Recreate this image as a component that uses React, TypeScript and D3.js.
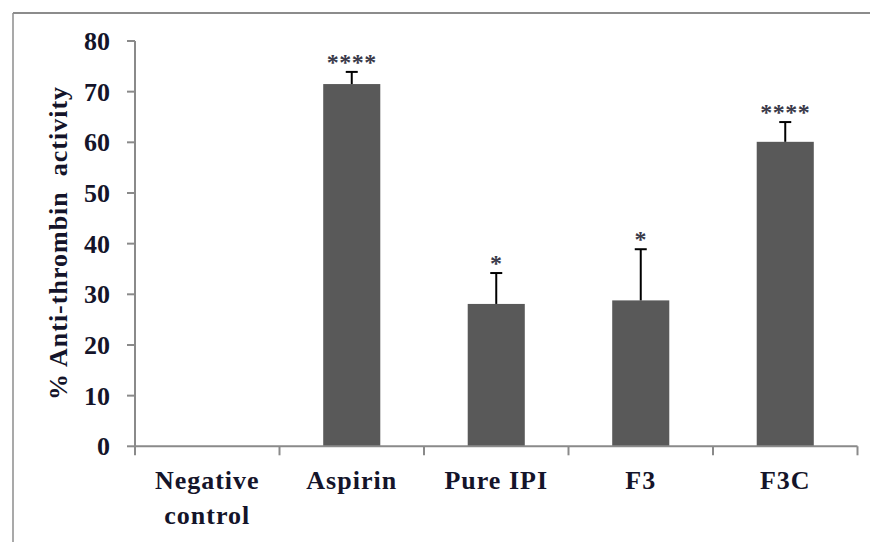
import React from "react";
import * as d3 from "d3";

const categories = ["Negative\ncontrol", "Aspirin", "Pure IPI", "F3", "F3C"];
const values = [0, 71.5, 28.1, 28.8, 60.1];
const errors = [0, 2.4, 6.1, 10.1, 3.9];
const stars = ["", "****", "*", "*", "****"];
const yTicks = [0, 10, 20, 30, 40, 50, 60, 70, 80];

const W = 870;
const H = 542;
const margin = { left: 135, right: 12.5, top: 41, bottom: 95.7 };

export default function App() {
  const x = d3
    .scaleBand<string>()
    .domain(categories)
    .range([margin.left, W - margin.right])
    .paddingInner(0.605)
    .paddingOuter(0.3025);
  const band = d3.scaleBand<string>().domain(categories).range([margin.left, W - margin.right]);
  const y = d3.scaleLinear().domain([0, 80]).range([H - margin.bottom, margin.top]);
  const textColor = "#14142a";
  const font = "Liberation Serif";
  const axisColor = "#8a8a8a";
  const x0 = margin.left;
  const x1 = W - margin.right;
  const y0 = y(0);

  return (
    <svg
      width={W}
      height={H}
      style={{ position: "absolute", left: 0, top: 0, display: "block", background: "#fff" }}
    >
      {/* frame */}
      <line x1={13} x2={W} y1={13} y2={13} stroke="#8c8c8c" strokeWidth={2} />
      <line x1={13} x2={13} y1={13} y2={H} stroke="#8c8c8c" strokeWidth={1.5} />

      {/* bars */}
      {categories.map((c, i) => (
        <rect
          key={c}
          x={x(c)}
          y={y(values[i])}
          width={x.bandwidth()}
          height={y0 - y(values[i])}
          fill="#595959"
        />
      ))}

      {/* error bars */}
      {categories.map((c, i) => {
        if (!errors[i]) return null;
        const cx = (x(c) as number) + x.bandwidth() / 2;
        const top = y(values[i] + errors[i]);
        return (
          <g key={"e" + c} stroke="#000" strokeWidth={2}>
            <line x1={cx} x2={cx} y1={y(values[i])} y2={top} />
            <line x1={cx - 6} x2={cx + 6} y1={top} y2={top} />
          </g>
        );
      })}

      {/* stars */}
      {categories.map((c, i) => {
        if (!stars[i]) return null;
        const cx = (x(c) as number) + x.bandwidth() / 2;
        const top = y(values[i] + errors[i]);
        return (
          <text
            key={"s" + c}
            x={cx}
            y={top - 13 + 11}
            textAnchor="middle"
            fontFamily={font}
            fontWeight="bold"
            fontSize={24}
            letterSpacing={0.5}
            fill="#3a3a4a"
          >
            {stars[i]}
          </text>
        );
      })}

      {/* y axis */}
      <line x1={x0} x2={x0} y1={y(80)} y2={y0} stroke={axisColor} strokeWidth={2} />
      {yTicks.map((t) => (
        <g key={t}>
          <line x1={x0 - 8} x2={x0} y1={y(t)} y2={y(t)} stroke={axisColor} strokeWidth={2} />
          <text
            x={x0 - 25}
            y={y(t)}
            dy="0.35em"
            textAnchor="end"
            fontFamily={font}
            fontWeight="bold"
            fontSize={26}
            fill={textColor}
          >
            {t}
          </text>
        </g>
      ))}

      {/* x axis */}
      <line x1={x0} x2={x1} y1={y0} y2={y0} stroke={axisColor} strokeWidth={2} />
      {[...categories.map((c) => band(c) as number), x1].map((p, i) => (
        <line key={"xt" + i} x1={p} x2={p} y1={y0} y2={y0 + 9} stroke={axisColor} strokeWidth={2} />
      ))}
      {categories.map((c) => {
        const cx = (band(c) as number) + band.bandwidth() / 2;
        const lines = c.split("\n");
        return (
          <text
            key={"xl" + c}
            x={cx}
            y={489}
            textAnchor="middle"
            fontFamily={font}
            fontWeight="bold"
            fontSize={26}
            letterSpacing={1}
            fill={textColor}
          >
            {lines.map((l, k) => (
              <tspan key={k} x={cx} dy={k === 0 ? 0 : 35}>
                {l}
              </tspan>
            ))}
          </text>
        );
      })}

      {/* y title */}
      <text
        transform={`translate(${67},${243}) rotate(-90)`}
        textAnchor="middle"
        fontFamily={font}
        fontWeight="bold"
        fontSize={26}
        letterSpacing={1}
        fill={textColor}
        style={{ whiteSpace: "pre" }}
      >
        {"% Anti-thrombin  activity"}
      </text>
    </svg>
  );
}
